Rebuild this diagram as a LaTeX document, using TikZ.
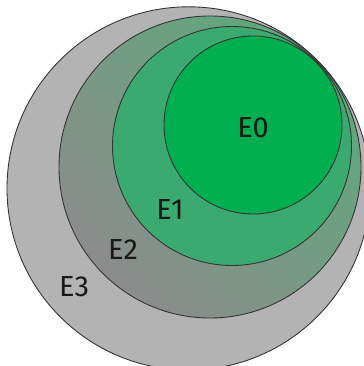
\documentclass[tikz,border=0pt]{standalone}
\usepackage{fontspec}
\setmainfont{Fira Sans}
\definecolor{egreen}{RGB}{0,176,80}
\definecolor{emid}{RGB}{58,170,112}
\definecolor{egrey}{RGB}{179,179,179}
\definecolor{eshadeA}{RGB}{96,168,124}
\definecolor{eshadeB}{RGB}{140,140,140}
\tikzstyle{ring} = [circle, inner sep=0pt, style={draw=black!80, line width=0.5pt}]
\tikzstyle{lab} = [font=\fontsize{16.5}{18}\selectfont, text=black!90]

\begin{document}
\begin{tikzpicture}
\useasboundingbox (0,0) rectangle (7.26,7.32);
% Nested sets
	\node[ring, fill=egrey, minimum size=7.264cm] at (3.772cm,3.552cm) (e3) {};
	\node[ring, top color=eshadeA, bottom color=eshadeB, shading angle=-45, minimum size=6.04cm] at (4.2cm,3.98cm) (e2) {};
	\node[ring, fill=emid, minimum size=4.78cm] at (4.64cm,4.40cm) (e1) {};
	\node[ring, fill=egreen, minimum size=3.56cm] at (5.06cm,4.82cm) (e0) {};

% Labels
	\node[lab] at (5.06cm,4.76cm) (l0) {E0};
	\node[lab] at (3.40cm,3.12cm) (l1) {E1};
	\node[lab] at (2.46cm,2.32cm) (l2) {E2};
	\node[lab] at (1.48cm,1.58cm) (l3) {E3};

\end{tikzpicture}
\end{document}
